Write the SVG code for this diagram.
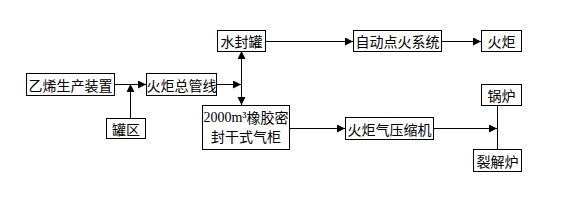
<svg xmlns="http://www.w3.org/2000/svg" width="585" height="202" viewBox="0 0 585 202">
<style>
.box{fill:#fff;stroke:#000;stroke-width:1}
.t{font-family:"Noto Sans CJK SC","Noto Sans CJK JP",sans-serif;font-size:14px;fill:#000;text-anchor:middle;dominant-baseline:central}
.d{font-family:"Liberation Serif",serif}
.c{stroke:#000;stroke-width:1;fill:none}
.a{marker-end:url(#arr)}
</style>
<defs>
<marker id="arr" markerUnits="userSpaceOnUse" markerWidth="9" markerHeight="9" refX="8" refY="4" orient="auto">
<path d="M0,0 L8,4 L0,8 z" fill="#000"/>
</marker>
</defs>
<rect width="585" height="202" fill="#fff"/>
<g id="connectors">
<line class="c a" x1="114" y1="84.5" x2="146" y2="84.5"/>
<line class="c a" x1="130.5" y1="118" x2="130.5" y2="84"/>
<line class="c a" x1="217" y1="84.5" x2="241" y2="84.5"/>
<line class="c a" x1="241.5" y1="84" x2="241.5" y2="51"/>
<line class="c a" x1="241.5" y1="84" x2="241.5" y2="105"/>
<line class="c a" x1="266" y1="41.5" x2="353" y2="41.5"/>
<line class="c a" x1="442" y1="41.5" x2="481" y2="41.5"/>
<line class="c a" x1="289" y1="128.5" x2="345" y2="128.5"/>
<line class="c a" x1="434" y1="128.5" x2="497" y2="128.5"/>
<line class="c" x1="497.5" y1="106" x2="497.5" y2="149"/>
</g>
<g id="n1"><rect class="box" x="26.5" y="73.5" width="88" height="22"/><text class="t" x="70.5" y="84.5">乙烯生产装置</text></g>
<g id="n2"><rect class="box" x="146.5" y="73.5" width="70" height="22"/><text class="t" x="181.5" y="84.5">火炬总管线</text></g>
<g id="n3"><rect class="box" x="106.5" y="118.5" width="39" height="20"/><text class="t" x="126" y="128.5">罐区</text></g>
<g id="n4"><rect class="box" x="217.5" y="30.5" width="48" height="21"/><text class="t" x="241.5" y="41">水封罐</text></g>
<g id="n5"><rect class="box" x="202.5" y="105.5" width="87" height="44"/><text class="t" x="246" y="117"><tspan class="d">2000m³</tspan>橡胶密</text><text class="t" x="246" y="136">封干式气柜</text></g>
<g id="n6"><rect class="box" x="353.5" y="30.5" width="88" height="21"/><text class="t" x="397.5" y="41">自动点火系统</text></g>
<g id="n7"><rect class="box" x="481.5" y="30.5" width="40" height="21"/><text class="t" x="501.5" y="41">火炬</text></g>
<g id="n8"><rect class="box" x="345.5" y="117.5" width="88" height="22"/><text class="t" x="389.5" y="128.5">火炬气压缩机</text></g>
<g id="n9"><rect class="box" x="481.5" y="84.5" width="40" height="21"/><text class="t" x="501.5" y="95">锅炉</text></g>
<g id="n10"><rect class="box" x="473.5" y="149.5" width="48" height="22"/><text class="t" x="497.5" y="160.5">裂解炉</text></g>
</svg>
